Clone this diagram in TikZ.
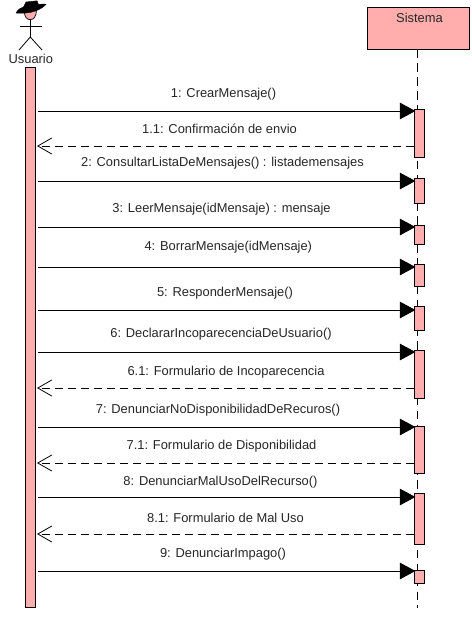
\documentclass[tikz,border=0pt]{standalone}
\usepackage{fontspec}
\setmainfont{Liberation Sans}
\usetikzlibrary{arrows.meta}
\definecolor{rosa}{HTML}{FFADAD}
\tikzset{
 actbox/.style={draw=black, fill=rosa, line width=.8pt, inner sep=0, minimum width=10pt},
 msglabel/.style={font=\fontsize{12.9}{15}\selectfont, text=black!85, inner sep=0, yshift=-1.2pt},
 callmsg/.style={black, line width=.9pt, shorten >=-1.5pt, -{Triangle[length=15.5pt,width=16.5pt]}},
 retmsg/.style={black, line width=.8pt, dash pattern=on 8pt off 5pt, -{Straight Barb[length=14pt,width=16pt,line width=.8pt]}}
}
\begin{document}
\begin{tikzpicture}[x=1pt, y=-1pt]
\useasboundingbox (0,0) rectangle (471,634);
%sistema
\node[actbox, minimum width=101.5pt, minimum height=41.5pt] (sistema) at (418.25,28.25) {};
\node[msglabel] (sistemaname) at (419.5,16.5) {Sistema};
\coordinate (lifeend) at (417.5,608);
\draw[black, line width=.8pt, dash pattern=on 8.5pt off 5.4pt] (sistema.south -| lifeend) -- (lifeend);
%usuario
\draw[fill=rosa, line width=.7pt] (24.3,11.5) .. controls (24.5,17) and (27,19.7) .. (30.3,19.7) .. controls (34,19.7) and (36.5,16) .. (36.5,9.5) -- cycle;
\draw[fill=black] (16,13) .. controls (18,9) and (21,8) .. (23.5,7) -- (26,2) -- (37,.8) -- (38.5,4.5) .. controls (41,4) and (44,3.8) .. (46,4.3) .. controls (42,9) and (32,14.5) .. (16,13) -- cycle;
\draw[black, line width=.8pt] (30.3,19.7)--(30.3,37);
\draw[black, line width=.8pt] (19.5,26)--(41.5,26);
\draw[black, line width=.8pt] (19,50)--(30.3,37)--(42,50);
\node[msglabel] (usuarioname) at (30.8,58) {Usuario};
\node[actbox, minimum height=540pt] (usuariobar) at (30.5,337.5) {};
%activaciones
\foreach \a/\top/\bot in {a/109/157, b/178/203, c/225/244, d/264/286, e/306/330, f/350/398, g/426/473, h/493/544, i/570/583} {
 \node[actbox, minimum height={\bot-\top}] (act\a) at (419.3,{(\top+\bot)/2}) {};
}
%mensajes
\foreach \y/\a in {111/a, 181/b, 227/c, 267/d, 310/e, 352/f, 427/g, 497/h, 571/i} {
 \draw[callmsg] (37.5,\y) -- (act\a.west |- 0,\y);
}
\foreach \y/\a in {146/a, 388/f, 463/g, 534/h} {
 \draw[retmsg] (act\a.west |- 0,\y) -- (37,\y);
}
%etiquetas
\node[msglabel] (msgA) at (223.5,92.5) {1: CrearMensaje()};
\node[msglabel] (msgAret) at (219.5,128) {1.1: Confirmación de envio};
\node[msglabel] (msgB) at (222.5,161.7) {2: ConsultarListaDeMensajes() : listademensajes};
\node[msglabel] (msgC) at (221.5,208) {3: LeerMensaje(idMensaje) : mensaje};
\node[msglabel] (msgD) at (228.3,246) {4: BorrarMensaje(idMensaje)};
\node[msglabel] (msgE) at (225,291.7) {5: ResponderMensaje()};
\node[msglabel] (msgF) at (221,333) {6: DeclararIncoparecenciaDeUsuario()};
\node[msglabel] (msgFret) at (226,370.7) {6.1: Formulario de Incoparecencia};
\node[msglabel] (msgG) at (218,409) {7: DenunciarNoDisponibilidadDeRecuros()};
\node[msglabel] (msgGret) at (221.5,445) {7.1: Formulario de Disponibilidad};
\node[msglabel] (msgH) at (220.5,480.5) {8: DenunciarMalUsoDelRecurso()};
\node[msglabel] (msgHret) at (225.5,517) {8.1: Formulario de Mal Uso};
\node[msglabel] (msgI) at (223,552.5) {9: DenunciarImpago()};
\end{tikzpicture}
\end{document}
